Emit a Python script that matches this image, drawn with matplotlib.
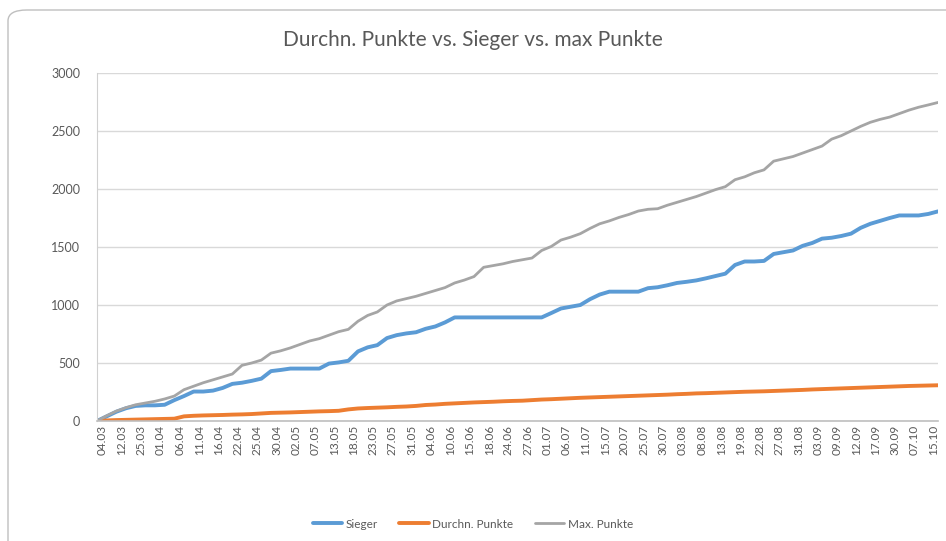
import matplotlib.pyplot as plt
import numpy as np
from matplotlib.patches import FancyBboxPatch

# visible category labels (every 2nd data point carries a label)
tick_labels = ['04.03', '12.03', '25.03', '01.04', '06.04', '11.04', '16.04', '22.04',
               '25.04', '30.04', '02.05', '07.05', '13.05', '18.05', '23.05', '27.05',
               '31.05', '04.06', '10.06', '15.06', '18.06', '24.06', '27.06', '01.07',
               '06.07', '11.07', '15.07', '20.07', '25.07', '30.07', '03.08', '08.08',
               '13.08', '19.08', '22.08', '27.08', '31.08', '03.09', '09.09', '12.09',
               '17.09', '30.09', '07.10', '15.10']

sieger = [0, 40, 80, 110, 130, 135, 135, 140, 180, 215,
          254, 254, 262, 285, 320, 330, 346, 365, 430, 440,
          452, 452, 452, 452, 495, 505, 519, 600, 635, 654,
          715, 740, 755, 765, 795, 815, 850, 893, 893, 893,
          893, 893, 893, 893, 893, 893, 893, 931, 970, 985,
          1000, 1050, 1090, 1115, 1115, 1115, 1115, 1145, 1153, 1170,
          1190, 1200, 1212, 1230, 1250, 1270, 1345, 1375, 1375, 1380,
          1440, 1455, 1470, 1510, 1535, 1572, 1580, 1595, 1615, 1665,
          1700, 1725, 1750, 1772, 1772, 1772, 1785, 1807]

durchn = [0, 5, 8, 10, 12, 14, 16, 18, 20, 40,
          45, 48, 50, 52, 55, 57, 60, 65, 70, 72,
          74, 77, 80, 83, 85, 88, 100, 108, 112, 115,
          118, 122, 125, 130, 138, 142, 148, 152, 156, 160,
          163, 166, 170, 173, 175, 180, 185, 188, 192, 196,
          200, 203, 206, 209, 212, 215, 218, 221, 224, 227,
          231, 234, 238, 240, 243, 246, 249, 252, 254, 256,
          259, 262, 265, 268, 272, 275, 278, 281, 284, 287,
          290, 293, 296, 299, 302, 304, 306, 308]

max_punkte = [0, 45, 85, 115, 140, 155, 170, 190, 215, 270,
              300, 330, 355, 380, 405, 480, 500, 525, 585, 605,
              630, 660, 690, 710, 740, 770, 790, 860, 910, 940,
              1000, 1035, 1055, 1075, 1100, 1125, 1150, 1190, 1215, 1245,
              1325, 1340, 1355, 1375, 1390, 1405, 1470, 1505, 1560, 1585,
              1615, 1660, 1700, 1725, 1755, 1780, 1810, 1825, 1830, 1860,
              1885, 1910, 1935, 1965, 1995, 2020, 2080, 2105, 2140, 2165,
              2240, 2260, 2280, 2310, 2340, 2370, 2430, 2460, 2500, 2540,
              2575, 2600, 2620, 2650, 2680, 2705, 2725, 2746]

plt.rcParams['font.family'] = ['Lato', 'DejaVu Sans']
txt = '#595959'

fig = plt.figure(figsize=(9.46, 5.41), dpi=100)
fig.patches.append(FancyBboxPatch((8 / 946, -0.1), 1.2, 1 - 10 / 541 + 0.1,
                                  boxstyle='round,pad=0,rounding_size=0.02',
                                  transform=fig.transFigure, fc='white',
                                  ec='#bfbfbf', lw=1.0, zorder=-1))
ax = fig.add_axes([97 / 946, 1 - 421 / 541, (938 - 97) / 946, (421 - 73) / 541])

x = np.arange(len(sieger))
ax.plot(x, sieger, color='#5B9BD5', lw=2.8, label='Sieger', solid_capstyle='round')
ax.plot(x, durchn, color='#ED7D31', lw=2.8, label='Durchn. Punkte', solid_capstyle='round')
ax.plot(x, max_punkte, color='#A5A5A5', lw=2.0, label='Max. Punkte', solid_capstyle='round')

ax.set_xlim(0, len(x) - 1)
ax.set_ylim(0, 3000)
ax.set_yticks(range(0, 3001, 500))
ax.set_xticks(x[:2 * len(tick_labels):2])
ax.set_xticklabels(tick_labels, rotation=90, ha='left', fontsize=8.5, color=txt)
ax.tick_params(axis='y', labelsize=9, colors=txt, length=0, pad=12)
ax.tick_params(axis='x', length=0, pad=3)
ax.grid(axis='y', color='#d9d9d9', lw=1)
ax.set_axisbelow(True)
for s in ['top', 'right']:
    ax.spines[s].set_visible(False)
ax.spines['left'].set_color('#d0d0d0')
ax.spines['bottom'].set_color('#bfbfbf')
ax.spines['bottom'].set_linewidth(1.2)

fig.text(0.5, 1 - 40 / 541, 'Durchn. Punkte vs. Sieger vs. max Punkte',
         ha='center', va='center', fontsize=15, color=txt)

fig.legend(loc='center', bbox_to_anchor=(0.5, 1 - 524 / 541), ncol=3, frameon=False,
           fontsize=8.5, labelcolor=txt, handlelength=2.5, handletextpad=0.3,
           columnspacing=1.8)

fig.savefig('out.png', dpi=100)
